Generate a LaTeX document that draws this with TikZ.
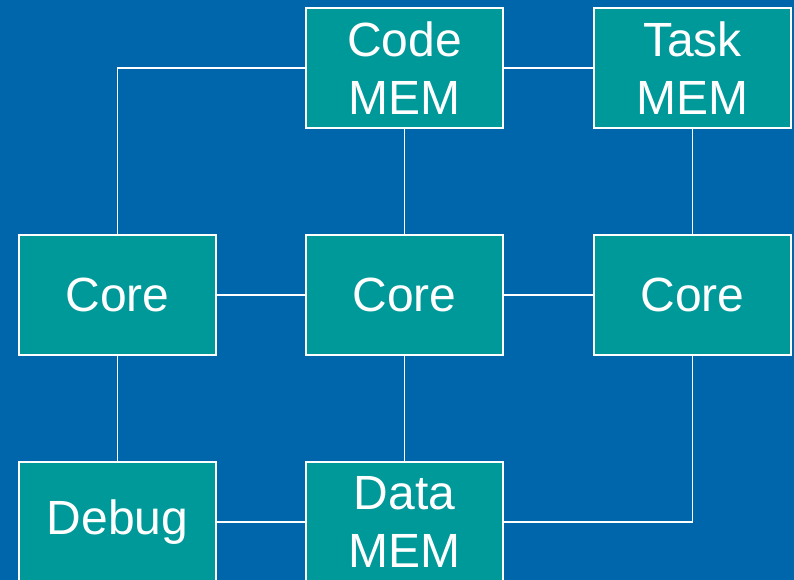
\documentclass[tikz,border=0pt]{standalone}
\usepackage{fontspec}
\setmainfont{Liberation Sans}
\definecolor{bgblue}{RGB}{0,102,172}
\definecolor{boxteal}{RGB}{0,153,153}
\begin{document}
\begin{tikzpicture}[x=1pt,y=-1pt,
  blk/.style={draw=white, line width=1.5pt, fill=boxteal, minimum width=197pt, minimum height=120pt,
    inner sep=0pt, text=white, font=\fontsize{48}{58}\selectfont, align=center},
  link/.style={draw=white, line width=1.5pt}]
\path[use as bounding box] (0,0) rectangle (794,580);
\clip (0,0) rectangle (794,580);
\fill[bgblue] (0,0) rectangle (794,580);
\node[blk] (code) at (404.5,68) {Code\\MEM};
\node[blk] (task) at (692.5,68) {Task\\MEM};
\node[blk] (c1) at (117.5,295) {Core};
\node[blk] (c2) at (404.5,295) {Core};
\node[blk] (c3) at (692.5,295) {Core};
\node[blk] (dbg) at (117.5,522) {Debug};
\node[blk] (data) at (404.5,522) {Data\\MEM};
\draw[link] (code.west) -| (c1.north);
\draw[link] (code.east) -- (task.west);
\draw[link] (code.south) -- (c2.north);
\draw[link] (task.south) -- (c3.north);
\draw[link] (c1.east) -- (c2.west);
\draw[link] (c2.east) -- (c3.west);
\draw[link] (c1.south) -- (dbg.north);
\draw[link] (c2.south) -- (data.north);
\draw[link] (dbg.east) -- (data.west);
\draw[link] (data.east) -| (c3.south);
\end{tikzpicture}
\end{document}
